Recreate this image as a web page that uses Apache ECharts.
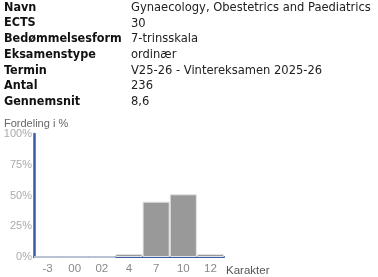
<!DOCTYPE html>
<html><head><meta charset="utf-8">
<script src="https://cdn.jsdelivr.net/npm/echarts@6/dist/echarts.min.js"></script>
<style>html,body{margin:0;padding:0;background:#fff}#c{width:378px;height:277px}</style>
</head><body><div id="c"></div>
<script>
const infoLabels = ["Navn","ECTS","Bedømmelsesform","Eksamenstype","Termin","Antal","Gennemsnit"];
const infoValues = ["Gynaecology, Obestetrics and Paediatrics","30","7-trinsskala","ordinær","V25-26 - Vintereksamen 2025-26","236","8,6"];
const grades = ["-3","00","02","4","7","10","12"];
const percents = [0,0,0,2.5,45,51,2.5];
const yTicks = [0,25,50,75,100];

const chart = echarts.init(document.getElementById('c'), null, {renderer:'canvas'});
const graphics = [];
infoLabels.forEach((t,i)=>{
  const y = 7.5 + i*15.7;
  graphics.push({type:'text', left:4, top:y-6.5, style:{text:t, font:'bold 12.5px "DejaVu Sans Condensed"', fill:'#111'}});
  graphics.push({type:'text', left:131, top:y-6.5, style:{text:infoValues[i], font:'12.8px "DejaVu Sans Condensed"', fill:'#222'}});
});
graphics.push({type:'text', left:4, top:118, style:{text:'Fordeling i %', font:'11px "Liberation Sans"', fill:'#666'}});
chart.setOption({
  animation:false,
  graphic: graphics,
  grid:{left:34, right:154, top:134, bottom:16},
  xAxis:{type:'category', data:grades,
    axisLine:{lineStyle:{color:'#3a5ca6', width:2}},
    axisTick:{show:false},
    axisLabel:{color:'#888', fontSize:11.5, fontFamily:'Liberation Sans', margin:6},
    name:'Karakter', nameLocation:'end', nameGap:2,
    nameTextStyle:{color:'#555', fontSize:11.5, fontFamily:'Liberation Sans', verticalAlign:'top', padding:[8,0,0,0]}
  },
  yAxis:{type:'value', min:0, max:100, interval:25,
    axisLine:{show:true, lineStyle:{color:'#3a5ca6', width:2.5}},
    axisTick:{show:false}, splitLine:{show:false},
    axisLabel:{color:'#aaa', fontSize:11, fontFamily:'Liberation Sans', margin:2, formatter:v=>v+'%'}
  },
  series:[{type:'bar', data:percents, barCategoryGap:0,
    itemStyle:{color:'#999', borderColor:'#e4e4e4', borderWidth:1}}]
});
</script></body></html>
